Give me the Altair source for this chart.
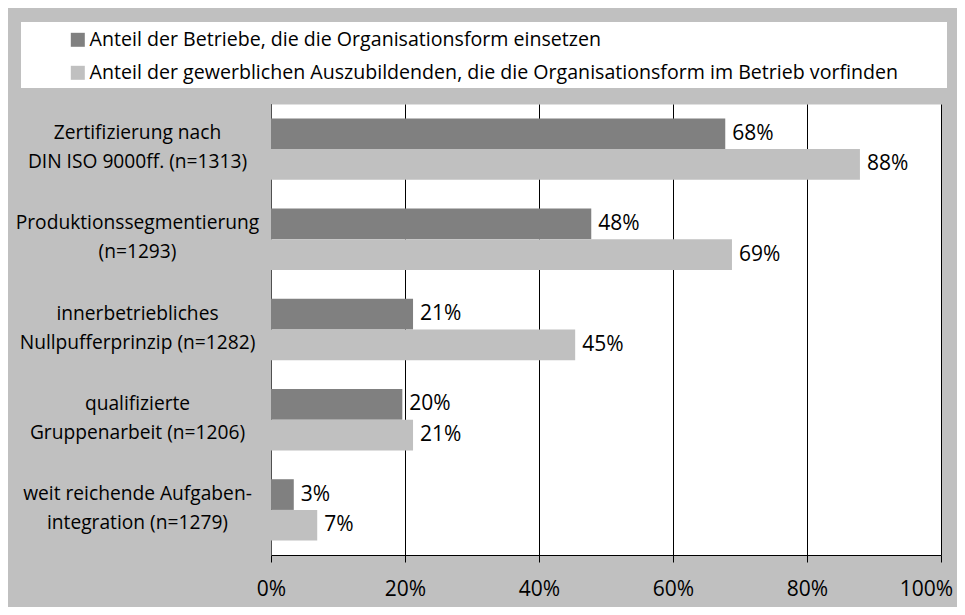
import altair as alt
import pandas as pd

categories = [
    "Zertifizierung nach|DIN ISO 9000ff. (n=1313)",
    "Produktionssegmentierung|(n=1293)",
    "innerbetriebliches|Nullpufferprinzip (n=1282)",
    "qualifizierte|Gruppenarbeit (n=1206)",
    "weit reichende Aufgaben-|integration (n=1279)",
]
series = [
    "Anteil der Betriebe, die die Organisationsform einsetzen",
    "Anteil der gewerblichen Auszubildenden, die die Organisationsform im Betrieb vorfinden",
]
betriebe = [67.8, 47.8, 21.2, 19.6, 3.4]
azubis = [87.9, 68.8, 45.4, 21.2, 6.9]
colors = ["#808080", "#c0c0c0"]
x_ticks = [0, 20, 40, 60, 80, 100]

rows = []
for c, v in zip(categories, betriebe):
    rows.append({"cat": c, "series": series[0], "value": v})
for c, v in zip(categories, azubis):
    rows.append({"cat": c, "series": series[1], "value": v})
df = pd.DataFrame(rows)

FONT = "Open Sans"
FS_CAT = 19.2
FS_NUM = 21
FS_LEG = 19.6

y_enc = alt.Y(
    "cat:N",
    sort=categories,
    scale=alt.Scale(paddingInner=0.32, paddingOuter=0.16),
    axis=alt.Axis(
        title=None,
        ticks=False,
        grid=False,
        domainColor="#505050",
        labelExpr="split(datum.label, '|')",
        labelAlign="center",
        labelBaseline="middle",
        labelPadding=134,
        labelOffset=-16,
        labelLineHeight=29,
        labelFontSize=FS_CAT,
        labelFont=FONT,
        labelColor="#000000",
        labelLimit=400,
    ),
)
yoff = alt.YOffset("series:N", sort=series)

bars = alt.Chart(df).mark_bar(size=30.7).encode(
    y=y_enc,
    yOffset=yoff,
    x=alt.X(
        "value:Q",
        scale=alt.Scale(domain=[0, 100], nice=False),
        axis=alt.Axis(
            title=None,
            values=x_ticks,
            labelExpr="datum.value + '%'",
            grid=True,
            gridColor="#000000",
            gridWidth=1,
            domainColor="#000000",
            tickColor="#000000",
            tickSize=7,
            labelPadding=16,
            labelOffset={"condition": {"test": "datum.value == 100", "value": -15}, "value": 0},
            labelFontSize=FS_NUM,
            labelFont=FONT,
            labelColor="#000000",
            labelFlush=False,
        ),
    ),
    color=alt.Color(
        "series:N",
        sort=series,
        scale=alt.Scale(domain=series, range=colors),
        legend=alt.Legend(
            title=None,
            orient="none",
            legendX=-203,
            legendY=-74,
            symbolType="square",
            symbolSize=196,
            symbolStrokeWidth=0,
            labelFontSize=FS_LEG,
            labelFont=FONT,
            labelColor="#000000",
            labelOffset=2,
            labelLimit=1000,
            rowPadding=12,
            padding=0,
        ),
    ),
)

labels = (
    alt.Chart(df)
    .transform_calculate(lbl="format(datum.value, '.0f') + '%'")
    .mark_text(align="left", baseline="middle", dx=7, fontSize=FS_NUM, font=FONT, color="#000000")
    .encode(
        y=alt.Y("cat:N", sort=categories),
        yOffset=yoff,
        x="value:Q",
        text="lbl:N",
    )
)

legend_box = alt.Chart(pd.DataFrame({"a": [0]})).mark_rect(color="white").encode(
    x=alt.value(-250), x2=alt.value(676), y=alt.value(-82), y2=alt.value(-16)
)

chart = alt.layer(legend_box, bars, labels).properties(
    width=670,
    height=451,
    autosize=alt.AutoSizeParams(type="none"),
    padding={"left": 263, "top": 96, "right": 16, "bottom": 52},
    background="#c0c0c0",
).configure_view(fill="white", stroke="transparent")

chart.save("out.html", embed_options={"renderer": "svg", "actions": False})
